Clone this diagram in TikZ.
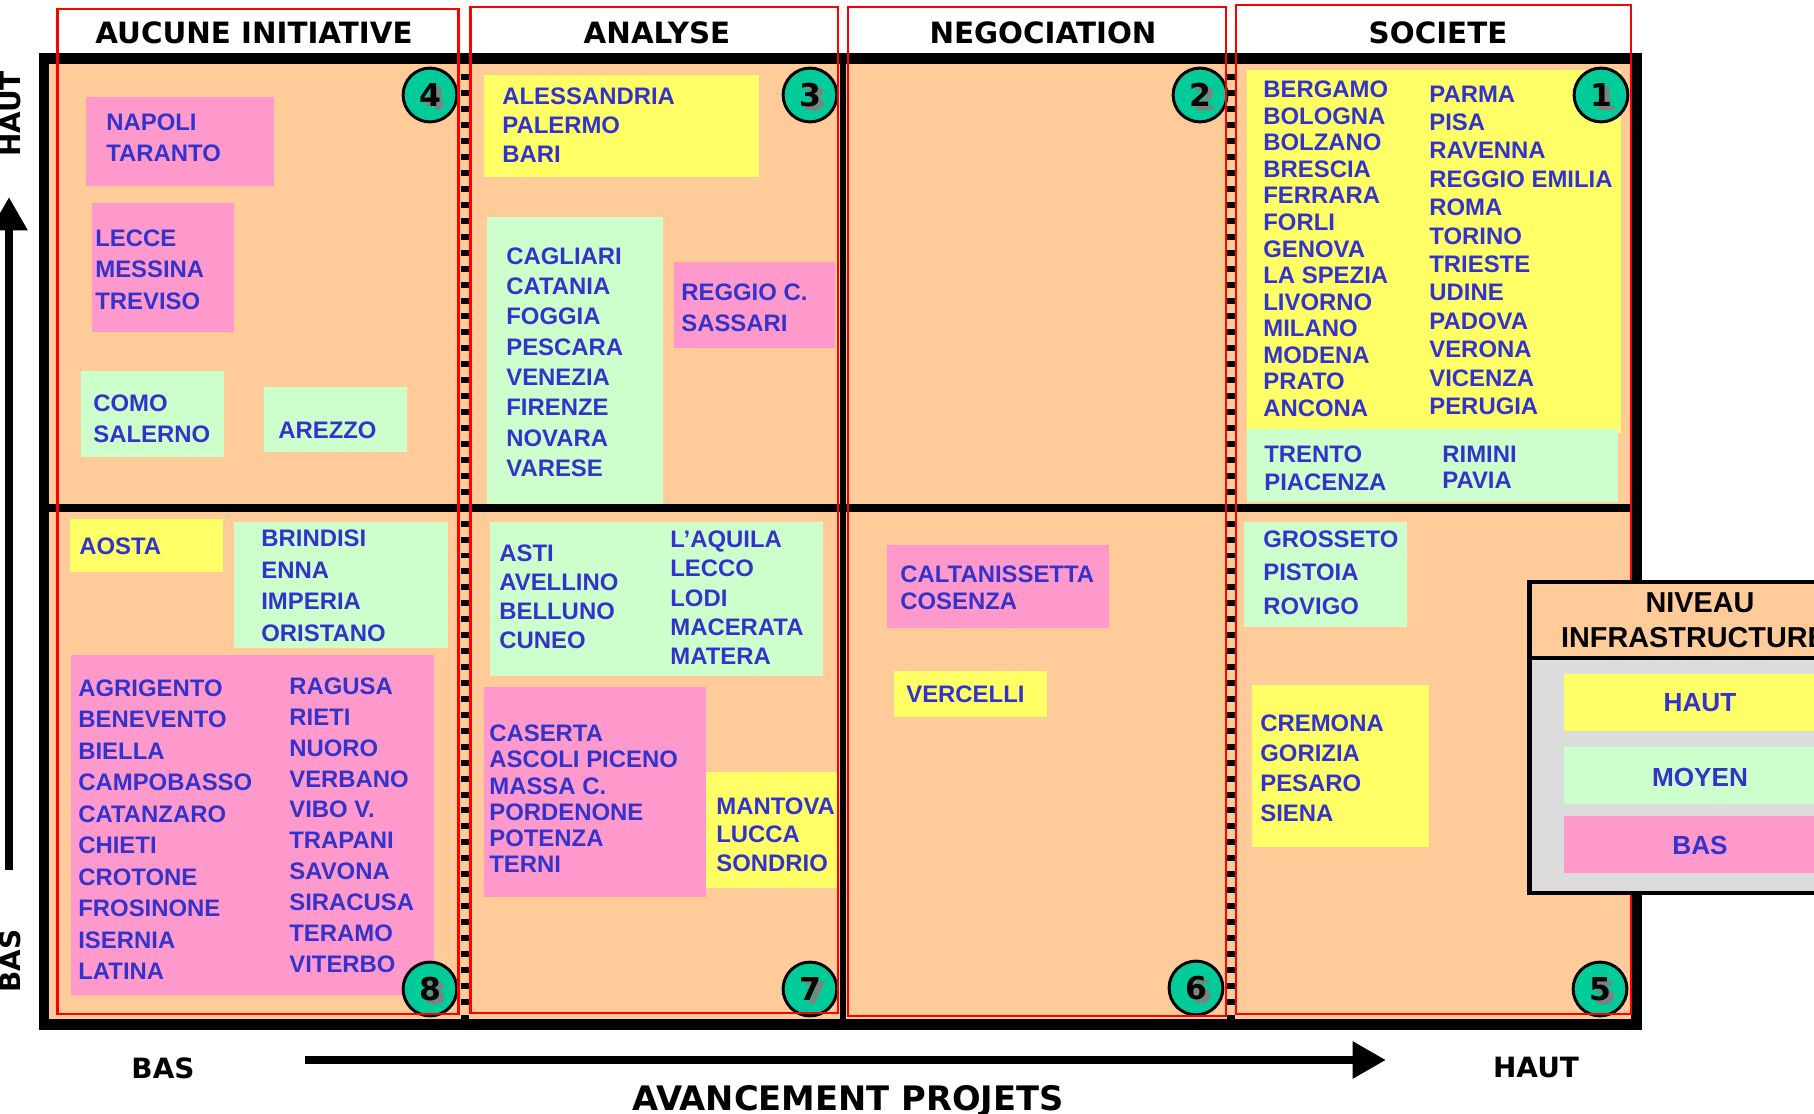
\documentclass[tikz,border=0pt]{standalone}
\usepackage{fontspec}
\setmainfont{Liberation Sans}
\newfontfamily\headfont{DejaVu Sans}
\usepackage[svgnames]{xcolor}
\usepackage{tikz}
\usetikzlibrary{arrows.meta}

\definecolor{Peach}{HTML}{FFCC99}
\definecolor{HautYellow}{HTML}{FFFF66}
\definecolor{MoyenGreen}{HTML}{CCFFCC}
\definecolor{BasPink}{HTML}{FF99CC}
\definecolor{CityBlue}{HTML}{3333CC}
\definecolor{QuadGreen}{HTML}{00CC99}
\definecolor{LegendGray}{HTML}{DCDCDC}

\newdimen\pxu
\pxu=0.56693pt
\newcommand{\quadnum}[1]{\rlap{\smash{\hspace{5\pxu}\raisebox{-4\pxu}{\textcolor{Gray}{#1}}}}#1}

\begin{document}
\begin{tikzpicture}[x=0.02cm, y=-0.02cm,
  city/.style={font=\fontsize{13.6}{#1\pxu}\selectfont\bfseries, text=CityBlue, align=left, anchor=north west, inner sep=0pt},
  city/.default=28,
  head/.style={font=\headfont\bfseries\fontsize{16.7}{20}\selectfont, inner sep=0pt},
  axislabel/.style={font=\headfont\bfseries\fontsize{15.9}{19}\selectfont, inner sep=0pt},
  axistitle/.style={font=\headfont\bfseries\fontsize{19.2}{23}\selectfont, inner sep=0pt, anchor=base},
  legendtitle/.style={font=\fontsize{16.4}{20}\selectfont\bfseries, inner sep=0pt},
  legenditem/.style={font=\fontsize{14.9}{18}\selectfont\bfseries, text=CityBlue, inner sep=0pt},
  quad/.style={circle, draw=black, line width=3*\pxu, fill=QuadGreen, minimum size=54*\pxu, inner sep=0pt, font=\headfont\bfseries\fontsize{17.9}{20}\selectfont},
  divider/.style={line width=8*\pxu, dash pattern=on 3.4pt off 5.67pt},
  redbox/.style={draw=red, line width=2.7*\pxu},
  axisarrow/.style={line width=8.5*\pxu, -{Triangle[length=19pt, width=20pt]}}]

\useasboundingbox (0,0) rectangle (1814,1114);
\clip (0,0) rectangle (1814,1114);
\fill [white] (0,0) rectangle (1814,1114);

\fill [Peach] (44,58.5) rectangle (1636.5,1024.5);

% col 1, top
\fill [BasPink]    (86,97) rectangle (274,186);
\fill [BasPink]    (92,203) rectangle (234,332);
\fill [MoyenGreen] (81,371) rectangle (224,457);
\fill [MoyenGreen] (264,387) rectangle (407,452);
% col 2, top
\fill [HautYellow] (484,75) rectangle (759,177);
\fill [MoyenGreen] (487,217) rectangle (663,505);
\fill [BasPink]    (674,262) rectangle (835,348);
% col 4, top
\fill [HautYellow] (1247,70) rectangle (1621,433);
\fill [MoyenGreen] (1247,429) rectangle (1618,502);
% col 1, bottom
\fill [HautYellow] (70,519) rectangle (223,572);
\fill [MoyenGreen] (234,522) rectangle (448,648);
\fill [BasPink]    (71,655) rectangle (434,995);
% col 2, bottom
\fill [MoyenGreen] (490,522) rectangle (823,676);
\fill [BasPink]    (484,687) rectangle (706,897);
\fill [HautYellow] (706,772) rectangle (837,888);
% col 3, bottom
\fill [BasPink]    (887,545) rectangle (1109,628);
\fill [HautYellow] (894,671) rectangle (1047,717);
% col 4, bottom
\fill [MoyenGreen] (1244,522) rectangle (1407,627);
\fill [HautYellow] (1252,685) rectangle (1429,847);

\draw [divider] (465,58.5) -- (465,1024.5);
\draw [divider] (1231,58.5) -- (1231,1024.5);
\draw [line width=6*\pxu] (843,58.5) -- (843,1024.5);
\draw [line width=8*\pxu] (44,508) -- (1636.5,508);
\draw [line width=11*\pxu] (44,58.5) rectangle (1636.5,1024.5);

\node [head] (aucune)      at (254,32.5)  {AUCUNE INITIATIVE};
\node [head] (analyse)     at (657,32.5)  {ANALYSE};
\node [head] (negociation) at (1043,32.5) {NEGOCIATION};
\node [head] (societe)     at (1438,32.5) {SOCIETE};

\node [city=31]   (napoli)      at (106,113.4) {NAPOLI\\TARANTO};
\node [city=31.5] (lecce)       at (95,229.4)  {LECCE\\MESSINA\\TREVISO};
\node [city=31]   (como)        at (93,394.4)  {COMO\\SALERNO};
\node [city]      (arezzo)      at (278,421.4) {AREZZO};
\node [city=29]   (alessandria) at (502,87.4)  {ALESSANDRIA\\PALERMO\\BARI};
\node [city=30.4] (cagliari)    at (506,247.4) {CAGLIARI\\CATANIA\\FOGGIA\\PESCARA\\VENEZIA\\FIRENZE\\NOVARA\\VARESE};
\node [city=31]   (reggioc)     at (681,283.4) {REGGIO C.\\SASSARI};
\node [city=26.7] (bergamo)     at (1263,80.4) {BERGAMO\\BOLOGNA\\BOLZANO\\BRESCIA\\FERRARA\\FORLI\\GENOVA\\LA SPEZIA\\LIVORNO\\MILANO\\MODENA\\PRATO\\ANCONA};
\node [city=28.5] (parma)       at (1429,85.4) {PARMA\\PISA\\RAVENNA\\REGGIO EMILIA\\ROMA\\TORINO\\TRIESTE\\UDINE\\PADOVA\\VERONA\\VICENZA\\PERUGIA};
\node [city=28]   (trento)      at (1264,445.4) {TRENTO\\PIACENZA};
\node [city=26]   (rimini)      at (1442,445.4) {RIMINI\\PAVIA};

\node [city]      (aosta)       at (79,537.4)  {AOSTA};
\node [city=31.7] (brindisi)    at (261,529.4) {BRINDISI\\ENNA\\IMPERIA\\ORISTANO};
\node [city=31.6] (agrigento)   at (78,679.4)  {AGRIGENTO\\BENEVENTO\\BIELLA\\CAMPOBASSO\\CATANZARO\\CHIETI\\CROTONE\\FROSINONE\\ISERNIA\\LATINA};
\node [city=31]   (ragusa)      at (289,677.4) {RAGUSA\\RIETI\\NUORO\\VERBANO\\VIBO V.\\TRAPANI\\SAVONA\\SIRACUSA\\TERAMO\\VITERBO};
\node [city=29.3] (asti)        at (499,544.4) {ASTI\\AVELLINO\\BELLUNO\\CUNEO};
\node [city=29.5] (laquila)     at (670,530.4) {L’AQUILA\\LECCO\\LODI\\MACERATA\\MATERA};
\node [city=26.4] (caserta)     at (489,724.4) {CASERTA\\ASCOLI PICENO\\MASSA C.\\PORDENONE\\POTENZA\\TERNI};
\node [city=28.5] (mantova)     at (716,797.4) {MANTOVA\\LUCCA\\SONDRIO};
\node [city=27]   (caltanissetta) at (900,565.4) {CALTANISSETTA\\COSENZA};
\node [city]      (vercelli)    at (906,685.4) {VERCELLI};
\node [city=33.5] (grosseto)    at (1263,530.4) {GROSSETO\\PISTOIA\\ROVIGO};
\node [city=30.3] (cremona)     at (1260,714.4) {CREMONA\\GORIZIA\\PESARO\\SIENA};

\node [quad] (q1) at (1601,95)  {\quadnum{1}};
\node [quad] (q2) at (1200,95)  {\quadnum{2}};
\node [quad] (q3) at (810,95)   {\quadnum{3}};
\node [quad] (q4) at (430,95)   {\quadnum{4}};
\node [quad] (q5) at (1600,989) {\quadnum{5}};
\node [quad] (q6) at (1196,988) {\quadnum{6}};
\node [quad] (q7) at (810,989)  {\quadnum{7}};
\node [quad] (q8) at (430,989)  {\quadnum{8}};

\draw [redbox] (57.5,9) rectangle (458.5,1014);
\draw [redbox] (470.5,7) rectangle (838,1013);
\draw [redbox] (848,7) rectangle (1226,1016);
\draw [redbox] (1236,5) rectangle (1631,1014);

% legend
\filldraw [fill=Peach, line width=5*\pxu] (1529,582) rectangle (1840,658);
\filldraw [fill=LegendGray, line width=5*\pxu] (1529,658) rectangle (1840,893);
\fill [HautYellow] (1564,674) rectangle (1840,731);
\fill [MoyenGreen] (1564,747) rectangle (1840,804);
\fill [BasPink]    (1564,816) rectangle (1840,873);
\node [legendtitle] (niveau) at (1700,602.5) {NIVEAU};
\node [legendtitle] (infra)  at (1694,637.5) {INFRASTRUCTURE};
\node [legenditem] (lhaut)  at (1700,703) {HAUT};
\node [legenditem] (lmoyen) at (1700,777) {MOYEN};
\node [legenditem] (lbas)   at (1700,845) {BAS};

% axes
\coordinate (vtail) at (9,870);
\coordinate (vtip)  at (9,197);
\coordinate (htail) at (305,1060);
\coordinate (htip)  at (1386,1060);
\draw [axisarrow] (vtail) -- (vtip);
\draw [axisarrow] (htail) -- (htip);

\node [axislabel, rotate=90] (hautv) at (11,114) {HAUT};
\node [axislabel, rotate=90] (basv)  at (10,961) {BAS};
\node [axislabel] (bash)  at (163,1068)  {BAS};
\node [axislabel] (hauth) at (1536,1068) {HAUT};
\node [axistitle] (avancement) at (848,1110) {AVANCEMENT PROJETS};
\end{tikzpicture}
\end{document}
